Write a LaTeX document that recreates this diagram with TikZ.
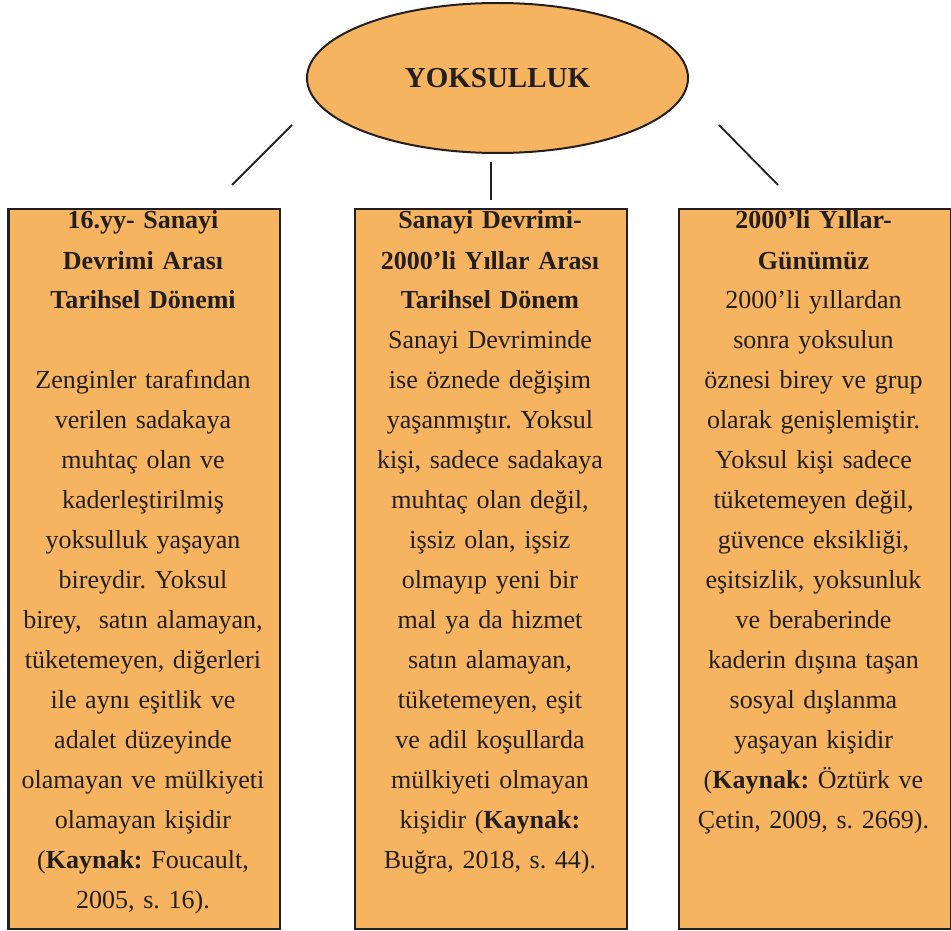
\documentclass[tikz,border=0pt]{standalone}
\usepackage{fontspec}
\setmainfont{Liberation Serif}
\usetikzlibrary{shapes.geometric}
\definecolor{boxfill}{HTML}{F6B461}
\definecolor{ink}{HTML}{231F20}
\frenchspacing
\begin{document}
\begin{tikzpicture}[x=1pt,y=-1pt,
  framebox/.style={draw=ink, line width=2.3pt, fill=boxfill, rectangle, anchor=north west, inner sep=0pt, minimum height=720pt},
  boxtext/.style={anchor=base, inner sep=0pt, text width=268pt, align=center, text=ink, font=\frenchspacing\fontsize{26}{40}\selectfont},
  link/.style={draw=ink, line width=1.8pt},
  ]
\useasboundingbox (0,0) rectangle (951,931);
\fill[white] (0,0) rectangle (951,931);
% central ellipse
\node[ellipse, draw=ink, line width=2pt, fill=boxfill, minimum width=381pt, minimum height=150pt, inner sep=0pt, text=ink, font=\bfseries\fontsize{29}{34}\selectfont] (root) at (497.5,78) {YOKSULLUK};
% boxes
\node[framebox, minimum width=271.4pt] (boxL) at (7.3,208) {};
\node[framebox, minimum width=272pt] (boxM) at (354,208) {};
\node[framebox, minimum width=271.5pt] (boxR) at (678,208) {};
% connector ends
\coordinate (lA) at (292,125);
\coordinate (lB) at (232,185);
\coordinate (mA) at (491,162);
\coordinate (mB) at (491,200);
\coordinate (rA) at (719,125);
\coordinate (rB) at (778,185);
\draw[link] (lA) -- (lB);
\draw[link] (mA) -- (mB);
\draw[link] (rA) -- (rB);
% texts
\node[boxtext] (tL) at (143,229) {\textbf{16.yy- Sanayi}\\ \textbf{Devrimi Arası}\\ \textbf{Tarihsel Dönemi}\\[40pt]
Zenginler tarafından\\ verilen sadakaya\\ muhtaç olan ve\\ kaderleştirilmiş\\ yoksulluk yaşayan\\ bireydir. Yoksul\\ birey,~ satın alamayan,\\ tüketemeyen, diğerleri\\ ile aynı eşitlik ve\\ adalet düzeyinde\\ olamayan ve mülkiyeti\\ olamayan kişidir\\ (\textbf{Kaynak:} Foucault,\\ 2005, s. 16).};
\node[boxtext] (tM) at (490,229) {\textbf{Sanayi Devrimi-}\\ \textbf{2000’li Yıllar Arası}\\ \textbf{Tarihsel Dönem}\\
Sanayi Devriminde\\ ise öznede değişim\\ yaşanmıştır. Yoksul\\ kişi, sadece sadakaya\\ muhtaç olan değil,\\ işsiz olan, işsiz\\ olmayıp yeni bir\\ mal ya da hizmet\\ satın alamayan,\\ tüketemeyen, eşit\\ ve adil koşullarda\\ mülkiyeti olmayan\\ kişidir (\textbf{Kaynak:}\\ Buğra, 2018, s. 44).};
\node[boxtext] (tR) at (813.5,229) {\textbf{2000’li Yıllar-}\\ \textbf{Günümüz}\\
2000’li yıllardan\\ sonra yoksulun\\ öznesi birey ve grup\\ olarak genişlemiştir.\\ Yoksul kişi sadece\\ tüketemeyen değil,\\ güvence eksikliği,\\ eşitsizlik, yoksunluk\\ ve beraberinde\\ kaderin dışına taşan\\ sosyal dışlanma\\ yaşayan kişidir\\ (\textbf{Kaynak:} Öztürk ve\\ Çetin, 2009, s. 2669).};
\end{tikzpicture}
\end{document}
